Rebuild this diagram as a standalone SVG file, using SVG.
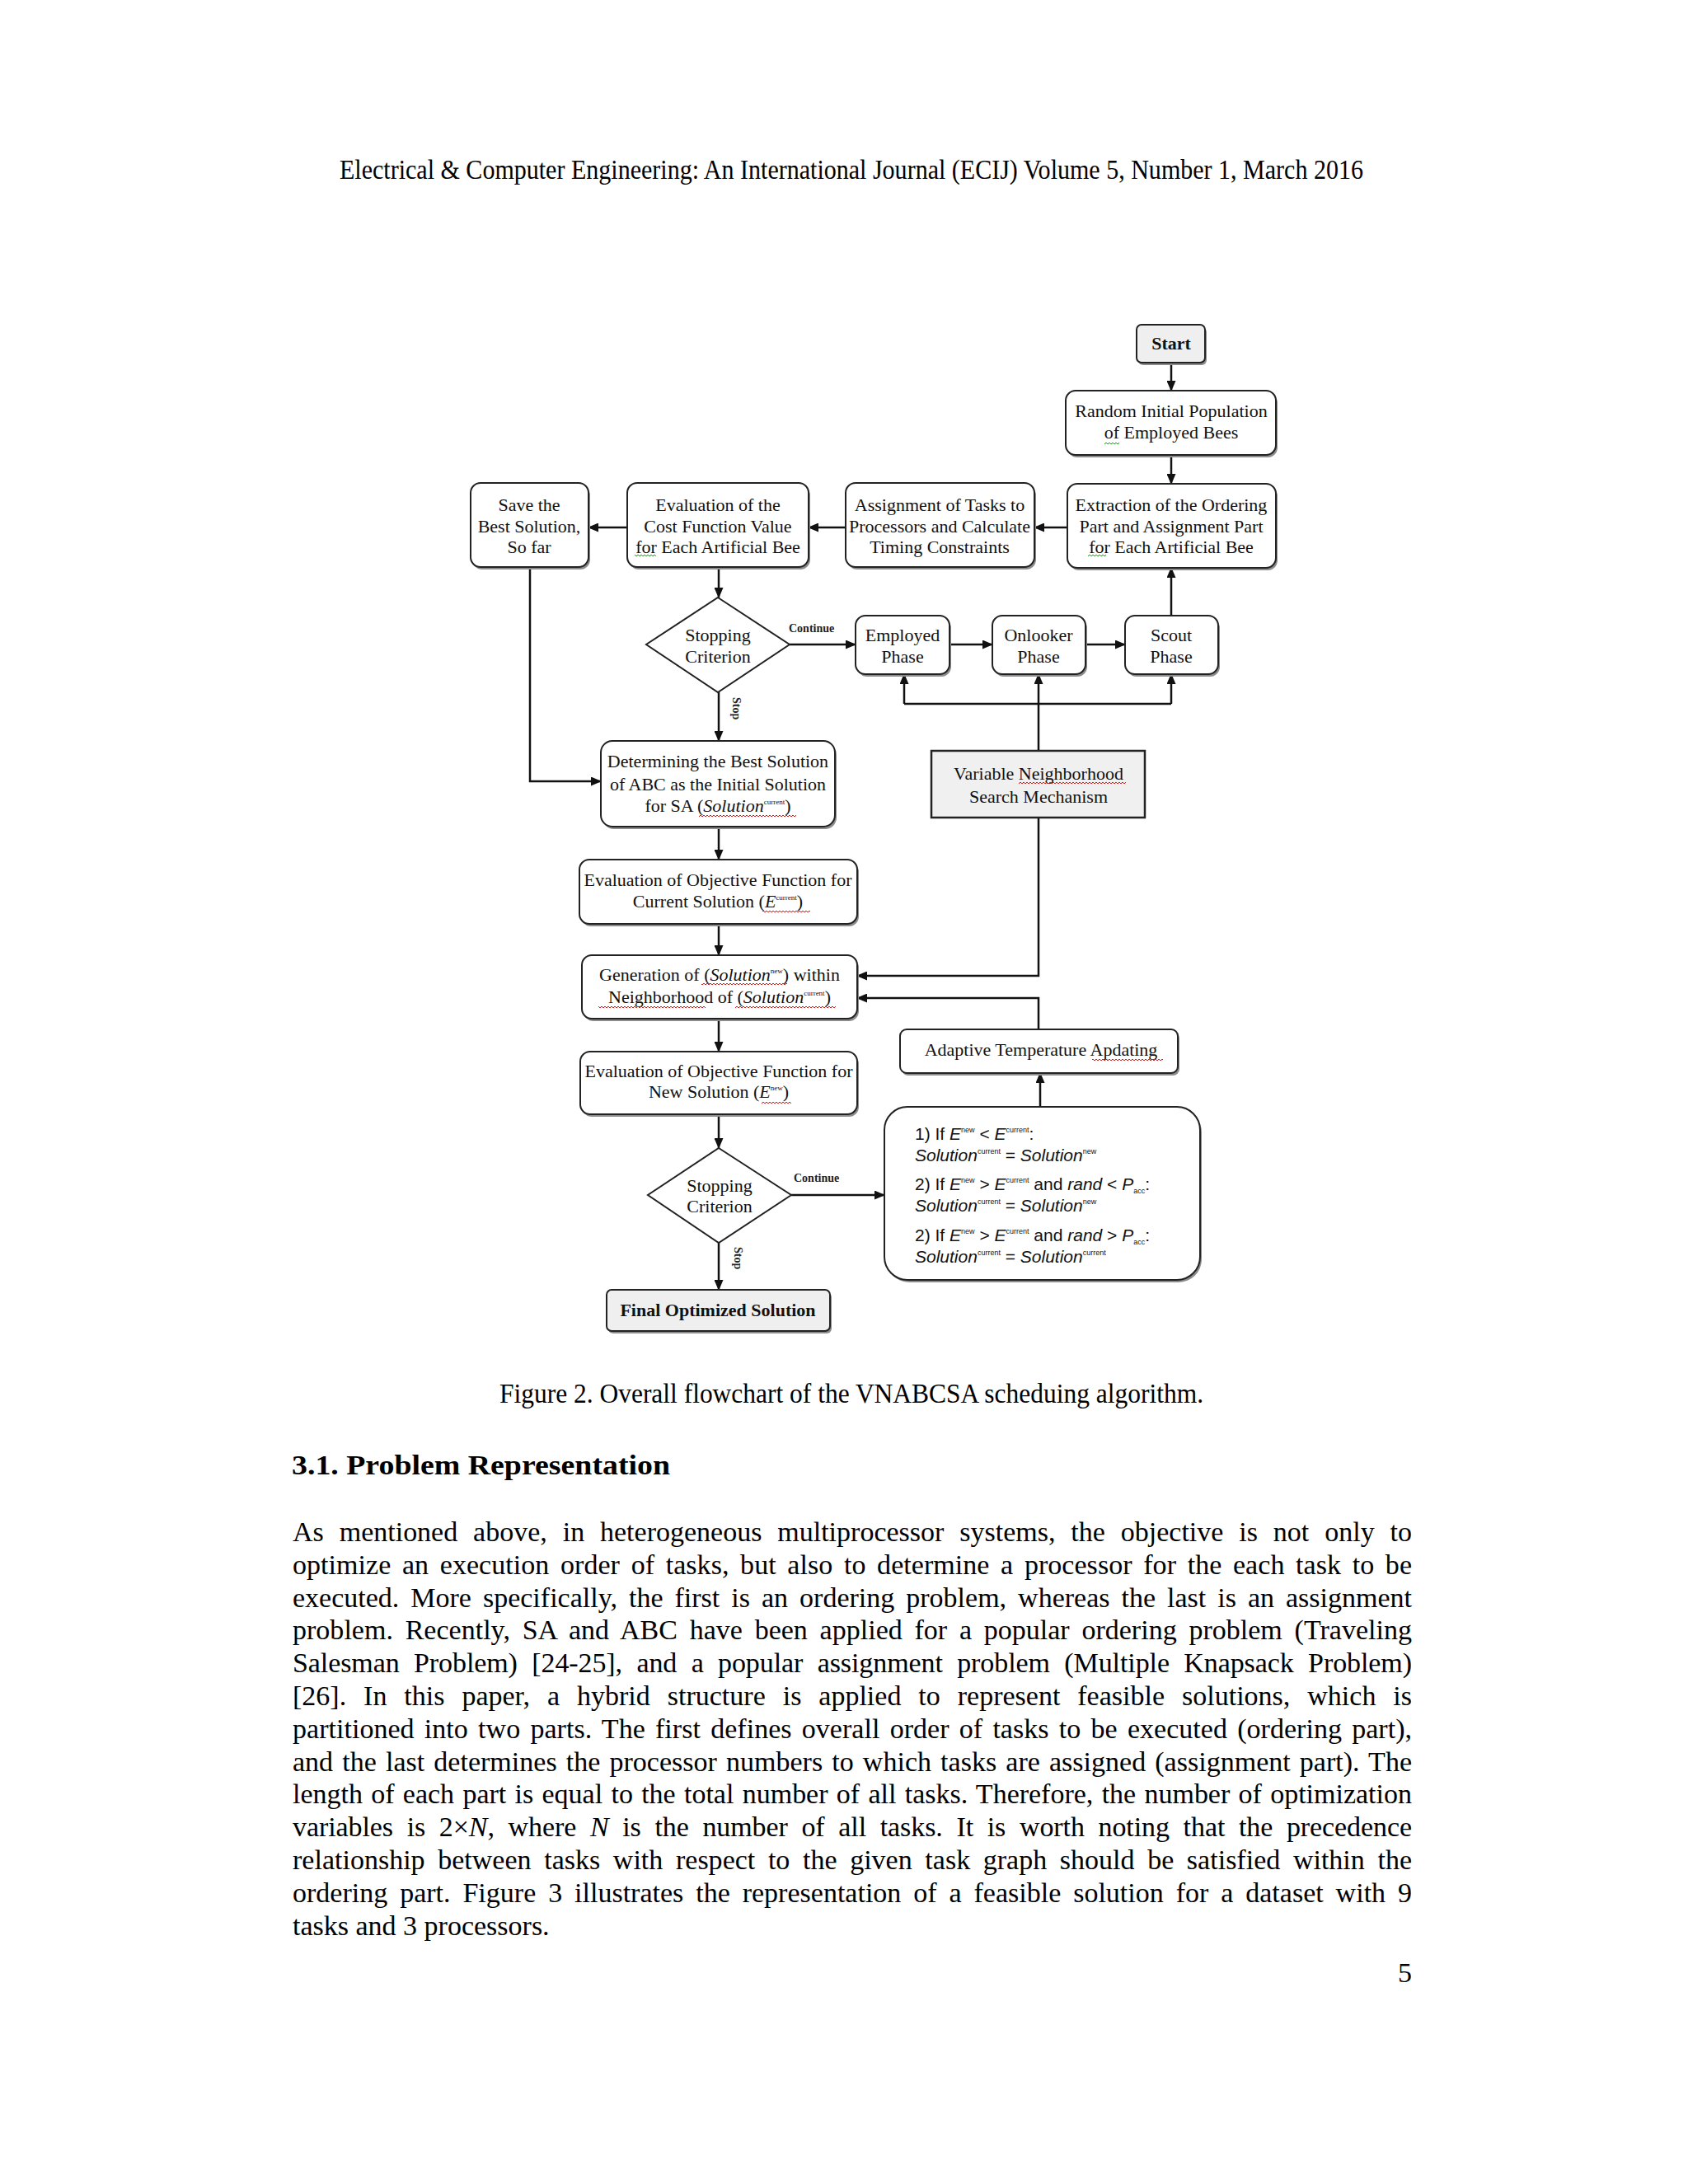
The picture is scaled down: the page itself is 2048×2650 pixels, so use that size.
<svg xmlns="http://www.w3.org/2000/svg" width="2048" height="2650" viewBox="0 0 2048 2650">
<defs>
<marker id="ah" markerWidth="13" markerHeight="11" refX="12" refY="5.5" orient="auto" markerUnits="userSpaceOnUse"><path d="M0,0 L13,5.5 L0,11 z" fill="#111"/></marker>
<pattern id="rw" x="0" y="0" width="4" height="4" patternUnits="userSpaceOnUse"><path d="M0,3 L2,1 L4,3" fill="none" stroke="#e01818" stroke-width="1"/></pattern>
<pattern id="gw" x="0" y="0" width="4" height="4" patternUnits="userSpaceOnUse"><path d="M0,3 L2,1 L4,3" fill="none" stroke="#20a020" stroke-width="1"/></pattern>
<style>
.box{fill:#fff;stroke:#222;stroke-width:2}
.gray{fill:#efefef}
.sh{fill:#8c8c8c}
.t{font-family:"Liberation Serif","Times New Roman",serif;font-size:22px;fill:#111;text-anchor:middle}
.b{font-weight:bold}
.lbl{font-family:"Liberation Serif",serif;font-size:14px;font-weight:bold;fill:#222}
.r{font-family:"Liberation Sans",Arial,sans-serif;font-size:21px;fill:#111}
.c{fill:none;stroke:#111;stroke-width:2.5;marker-end:url(#ah)}
.p{fill:none;stroke:#111;stroke-width:2.5}
.pg{font-family:"Liberation Serif","Times New Roman",serif;font-size:34px;fill:#000}
.sq{fill:url(#rw)}
.sg{fill:url(#gw)}
</style>
</defs>
<rect width="2048" height="2650" fill="#fff"/>

<text class="pg" x="412" y="217" font-size="29" textLength="1242" lengthAdjust="spacingAndGlyphs">Electrical &amp; Computer Engineering: An International Journal (ECIJ) Volume 5, Number 1, March 2016</text>

<g id="connectors">
<path class="c" d="M1421,440 V474"/>
<path class="c" d="M1421,552 V587"/>
<path class="c" d="M1295,640 H1255"/>
<path class="c" d="M1026,640 H981"/>
<path class="c" d="M761,640 H714"/>
<path class="c" d="M872,688 V725"/>
<path class="c" d="M958,782 H1038"/>
<path class="c" d="M1152,782 H1204"/>
<path class="c" d="M1317,782 H1365"/>
<path class="c" d="M1421,747 V689"/>
<path class="c" d="M1260,911 V818"/>
<path class="p" d="M1097,854 H1421"/>
<path class="c" d="M1097,854 V818"/>
<path class="c" d="M1421,854 V818"/>
<path class="c" d="M872,840 V899"/>
<path class="c" d="M643,688 V948 H729"/>
<path class="c" d="M872,1003 V1043"/>
<path class="c" d="M872,1121 V1159"/>
<path class="c" d="M1260,992 V1184 H1040"/>
<path class="c" d="M1260,1249 V1211 H1040"/>
<path class="c" d="M872,1236 V1276"/>
<path class="c" d="M872,1352 V1393"/>
<path class="c" d="M960,1450 H1073"/>
<path class="c" d="M1262,1343 V1302"/>
<path class="c" d="M872,1508 V1565"/>
<text class="lbl" x="957" y="767">Continue</text>
<text class="lbl" transform="translate(889,846) rotate(90)">Stop</text>
<text class="lbl" x="963" y="1434">Continue</text>
<text class="lbl" transform="translate(891,1513) rotate(90)">Stop</text>
</g>

<g id="start">
<rect class="sh" x="1381" y="397" width="83" height="46" rx="6"/>
<rect class="box gray" x="1379" y="394" width="83" height="46" rx="6"/>
<text class="t b" x="1421" y="424">Start</text>
</g>

<g id="random-init">
<rect class="sh" x="1295" y="477" width="255" height="78" rx="12"/>
<rect class="box" x="1293" y="474" width="255" height="78" rx="12"/>
<text class="t" x="1421" y="506">Random Initial Population</text>
<text class="t" x="1421" y="532">of Employed Bees</text>
<rect class="sg" x="1340" y="536" width="18" height="4"/>
</g>

<g id="extraction">
<rect class="sh" x="1297" y="590" width="253" height="102" rx="12"/>
<rect class="box" x="1295" y="587" width="253" height="102" rx="12"/>
<text class="t" x="1421" y="620">Extraction of the Ordering</text>
<text class="t" x="1421" y="646">Part and Assignment Part</text>
<text class="t" x="1421" y="671">for Each Artificial Bee</text>
<rect class="sg" x="1320" y="672" width="22" height="4"/>
</g>

<g id="assignment">
<rect class="sh" x="1028" y="589" width="229" height="102" rx="12"/>
<rect class="box" x="1026" y="586" width="229" height="102" rx="12"/>
<text class="t" x="1140" y="620">Assignment of Tasks to</text>
<text class="t" x="1140" y="646">Processors and Calculate</text>
<text class="t" x="1140" y="671">Timing Constraints</text>
</g>

<g id="evaluation-cost">
<rect class="sh" x="763" y="589" width="220" height="102" rx="12"/>
<rect class="box" x="761" y="586" width="220" height="102" rx="12"/>
<text class="t" x="871" y="620">Evaluation of the</text>
<text class="t" x="871" y="646">Cost Function Value</text>
<text class="t" x="871" y="671">for Each Artificial Bee</text>
<rect class="sg" x="770" y="672" width="26" height="4"/>
</g>

<g id="save-best">
<rect class="sh" x="573" y="589" width="143" height="102" rx="12"/>
<rect class="box" x="571" y="586" width="143" height="102" rx="12"/>
<text class="t" x="642" y="620">Save the</text>
<text class="t" x="642" y="646">Best Solution,</text>
<text class="t" x="642" y="671">So far</text>
</g>

<g id="stopping-1">
<polygon class="box" points="871,725 958,782 871,840 784,782"/>
<text class="t" x="871" y="778">Stopping</text>
<text class="t" x="871" y="804">Criterion</text>
</g>

<g id="employed">
<rect class="sh" x="1040" y="750" width="114" height="71" rx="12"/>
<rect class="box" x="1038" y="747" width="114" height="71" rx="12"/>
<text class="t" x="1095" y="778">Employed</text>
<text class="t" x="1095" y="804">Phase</text>
</g>

<g id="onlooker">
<rect class="sh" x="1206" y="750" width="113" height="71" rx="12"/>
<rect class="box" x="1204" y="747" width="113" height="71" rx="12"/>
<text class="t" x="1260" y="778">Onlooker</text>
<text class="t" x="1260" y="804">Phase</text>
</g>

<g id="scout">
<rect class="sh" x="1367" y="750" width="113" height="71" rx="12"/>
<rect class="box" x="1365" y="747" width="113" height="71" rx="12"/>
<text class="t" x="1421" y="778">Scout</text>
<text class="t" x="1421" y="804">Phase</text>
</g>

<g id="determining">
<rect class="sh" x="731" y="902" width="284" height="104" rx="14"/>
<rect class="box" x="729" y="899" width="284" height="104" rx="14"/>
<text class="t" x="871" y="931">Determining the Best Solution</text>
<text class="t" x="871" y="959">of ABC as the Initial Solution</text>
<text class="t" x="871" y="985">for SA (<tspan font-style="italic">Solution</tspan><tspan font-size="9" dy="-9">current</tspan><tspan dy="9">)</tspan></text>
<rect class="sq" x="848" y="988" width="118" height="4"/>
</g>

<g id="vns">
<rect x="1130" y="911" width="259" height="81" fill="#f0f0f0" stroke="#222" stroke-width="2.5"/>
<text class="t" x="1260" y="946">Variable Neighborhood</text>
<text class="t" x="1260" y="974">Search Mechanism</text>
<rect class="sq" x="1236" y="948" width="130" height="4"/>
</g>

<g id="eval-current">
<rect class="sh" x="705" y="1046" width="337" height="78" rx="12"/>
<rect class="box" x="703" y="1043" width="337" height="78" rx="12"/>
<text class="t" x="871" y="1075">Evaluation of Objective Function for</text>
<text class="t" x="871" y="1101">Current Solution (<tspan font-style="italic">E</tspan><tspan font-size="9" dy="-9">current</tspan><tspan dy="9">)</tspan></text>
<rect class="sq" x="925" y="1104" width="58" height="4"/>
</g>

<g id="generation">
<rect class="sh" x="708" y="1162" width="334" height="77" rx="12"/>
<rect class="box" x="706" y="1159" width="334" height="77" rx="12"/>
<text class="t" x="873" y="1190">Generation of (<tspan font-style="italic">Solution</tspan><tspan font-size="9" dy="-9">new</tspan><tspan dy="9">) within</tspan></text>
<text class="t" x="873" y="1217">Neighborhood of (<tspan font-style="italic">Solution</tspan><tspan font-size="9" dy="-9">current</tspan><tspan dy="9">)</tspan></text>
<rect class="sq" x="851" y="1192" width="104" height="4"/>
<rect class="sq" x="726" y="1220" width="130" height="4"/>
<rect class="sq" x="892" y="1220" width="122" height="4"/>
</g>

<g id="adaptive">
<rect class="sh" x="1094" y="1252" width="337" height="53" rx="8"/>
<rect class="box" x="1092" y="1249" width="337" height="53" rx="8"/>
<text class="t" x="1263" y="1281">Adaptive Temperature Apdating</text>
<rect class="sq" x="1325" y="1284" width="86" height="4"/>
</g>

<g id="eval-new">
<rect class="sh" x="706" y="1279" width="336" height="76" rx="12"/>
<rect class="box" x="704" y="1276" width="336" height="76" rx="12"/>
<text class="t" x="872" y="1307">Evaluation of Objective Function for</text>
<text class="t" x="872" y="1332">New Solution (<tspan font-style="italic">E</tspan><tspan font-size="9" dy="-9">new</tspan><tspan dy="9">)</tspan></text>
<rect class="sq" x="924" y="1336" width="36" height="4"/>
</g>

<g id="stopping-2">
<polygon class="box" points="872,1393 960,1450 872,1508 786,1450"/>
<text class="t" x="873" y="1446">Stopping</text>
<text class="t" x="873" y="1471">Criterion</text>
</g>

<g id="acceptance-rules">
<rect class="sh" x="1075" y="1346" width="383" height="210" rx="28"/>
<rect class="box" x="1073" y="1343" width="383" height="210" rx="28"/>
<text class="r" x="1110" y="1383">1) If <tspan font-style="italic">E</tspan><tspan font-size="9" dy="-9">new</tspan><tspan dy="9"> &lt; </tspan><tspan font-style="italic">E</tspan><tspan font-size="9" dy="-9">current</tspan><tspan dy="9">:</tspan></text>
<text class="r" x="1110" y="1409"><tspan font-style="italic">Solution</tspan><tspan font-size="9" dy="-9">current</tspan><tspan dy="9"> = </tspan><tspan font-style="italic">Solution</tspan><tspan font-size="9" dy="-9">new</tspan></text>
<text class="r" x="1110" y="1444">2) If <tspan font-style="italic">E</tspan><tspan font-size="9" dy="-9">new</tspan><tspan dy="9"> &gt; </tspan><tspan font-style="italic">E</tspan><tspan font-size="9" dy="-9">current</tspan><tspan dy="9"> and </tspan><tspan font-style="italic">rand</tspan> &lt; <tspan font-style="italic">P</tspan><tspan font-size="9" dy="4">acc</tspan><tspan dy="-4">:</tspan></text>
<text class="r" x="1110" y="1470"><tspan font-style="italic">Solution</tspan><tspan font-size="9" dy="-9">current</tspan><tspan dy="9"> = </tspan><tspan font-style="italic">Solution</tspan><tspan font-size="9" dy="-9">new</tspan></text>
<text class="r" x="1110" y="1506">2) If <tspan font-style="italic">E</tspan><tspan font-size="9" dy="-9">new</tspan><tspan dy="9"> &gt; </tspan><tspan font-style="italic">E</tspan><tspan font-size="9" dy="-9">current</tspan><tspan dy="9"> and </tspan><tspan font-style="italic">rand</tspan> &gt; <tspan font-style="italic">P</tspan><tspan font-size="9" dy="4">acc</tspan><tspan dy="-4">:</tspan></text>
<text class="r" x="1110" y="1532"><tspan font-style="italic">Solution</tspan><tspan font-size="9" dy="-9">current</tspan><tspan dy="9"> = </tspan><tspan font-style="italic">Solution</tspan><tspan font-size="9" dy="-9">current</tspan></text>
</g>

<g id="final">
<rect class="sh" x="738" y="1568" width="271" height="50" rx="6"/>
<rect class="box gray" x="736" y="1565" width="271" height="50" rx="6"/>
<text class="t b" x="871" y="1597">Final Optimized Solution</text>
</g>

<text class="pg" x="606" y="1702" font-size="30" textLength="854" lengthAdjust="spacingAndGlyphs">Figure 2. Overall flowchart of the VNABCSA scheduing algorithm.</text>
<text class="pg" x="354" y="1789" font-size="37" font-weight="bold" textLength="459" lengthAdjust="spacingAndGlyphs">3.1. Problem Representation</text>

<g class="pg">
<text x="355" y="1870" word-spacing="10.4" textLength="1358" lengthAdjust="spacing">As mentioned above, in heterogeneous multiprocessor systems, the objective is not only to</text>
<text x="355" y="1910" word-spacing="5.1" textLength="1358" lengthAdjust="spacing">optimize an execution order of tasks, but also to determine a processor for the each task to be</text>
<text x="355" y="1950" word-spacing="5.5" textLength="1358" lengthAdjust="spacing">executed. More specifically, the first is an ordering problem, whereas the last is an assignment</text>
<text x="355" y="1989" word-spacing="6.2" textLength="1358" lengthAdjust="spacing">problem. Recently, SA and ABC have been applied for a popular ordering problem (Traveling</text>
<text x="355" y="2029" word-spacing="9" textLength="1358" lengthAdjust="spacing">Salesman Problem) [24-25], and a popular assignment problem (Multiple Knapsack Problem)</text>
<text x="355" y="2069" word-spacing="12.4" textLength="1358" lengthAdjust="spacing">[26]. In this paper, a hybrid structure is applied to represent feasible solutions, which is</text>
<text x="355" y="2109" word-spacing="3.7" textLength="1358" lengthAdjust="spacing">partitioned into two parts. The first defines overall order of tasks to be executed (ordering part),</text>
<text x="355" y="2149" word-spacing="2.6" textLength="1358" lengthAdjust="spacing">and the last determines the processor numbers to which tasks are assigned (assignment part). The</text>
<text x="355" y="2188" word-spacing="1.8" textLength="1358" lengthAdjust="spacing">length of each part is equal to the total number of all tasks. Therefore, the number of optimization</text>
<text x="355" y="2228" word-spacing="8.3" textLength="1358" lengthAdjust="spacing">variables is 2×<tspan font-style="italic">N</tspan>, where <tspan font-style="italic">N</tspan> is the number of all tasks. It is worth noting that the precedence</text>
<text x="355" y="2268" word-spacing="7.1" textLength="1358" lengthAdjust="spacing">relationship between tasks with respect to the given task graph should be satisfied within the</text>
<text x="355" y="2308" word-spacing="6.4" textLength="1358" lengthAdjust="spacing">ordering part. Figure 3 illustrates the representation of a feasible solution for a dataset with 9</text>
<text x="355" y="2348">tasks and 3 processors.</text>
<text x="1713" y="2405" text-anchor="end">5</text>
</g>
</svg>
